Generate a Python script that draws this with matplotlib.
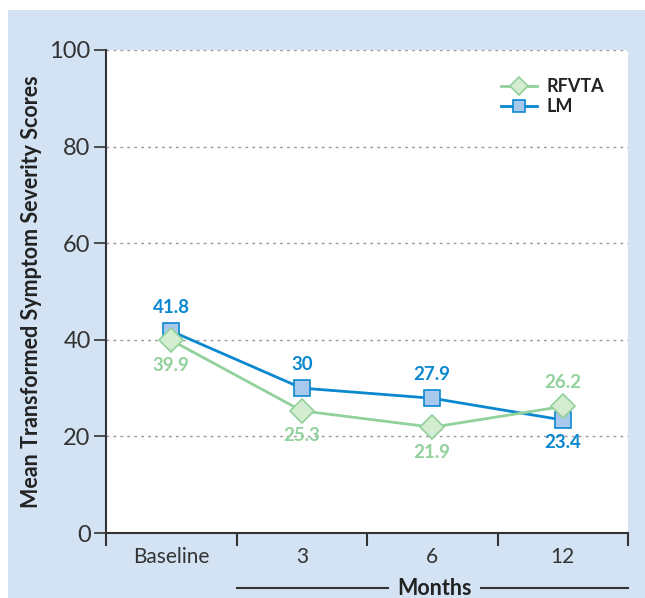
import matplotlib.pyplot as plt
from matplotlib.patches import Rectangle

# data
timepoints = ["Baseline", "3", "6", "12"]
rfvta = [39.9, 25.3, 21.9, 26.2]
lm = [41.8, 30.0, 27.9, 23.4]
rfvta_labels = ["39.9", "25.3", "21.9", "26.2"]
lm_labels = ["41.8", "30", "27.9", "23.4"]
rfvta_above = [False, False, False, True]
lm_above = [True, True, True, False]

GREEN = "#92d19b"
GREEN_FACE = "#d4ecd0"
BLUE = "#0a88cf"
BLUE_FACE = "#a9c9ec"
PANEL = "#d3e3f4"
DARK = "#333333"

plt.rcParams["font.family"] = ["Lato", "DejaVu Sans"]

fig = plt.figure(figsize=(6.45, 5.98), dpi=100)
fig.patch.set_facecolor("white")
fig.patches.append(Rectangle((8 / 645, 0), 1, (598 - 10) / 598,
                             transform=fig.transFigure, facecolor=PANEL,
                             edgecolor="none", zorder=-10))

ax = fig.add_axes([106 / 645, (598 - 533) / 598, 522 / 645, 483 / 598])
ax.set_facecolor("white")

x = list(range(len(timepoints)))
ax.plot(x, lm, color=BLUE, lw=2, marker="s", ms=11.5, mfc=BLUE_FACE,
        mec=BLUE, mew=1.2, label="LM", zorder=3)
ax.plot(x, rfvta, color=GREEN, lw=2, marker="D", ms=12.5, mfc=GREEN_FACE,
        mec=GREEN, mew=1.2, label="RFVTA", zorder=4)

for xi, v, t, up in zip(x, lm, lm_labels, lm_above):
    ax.annotate(t, (xi, v), xytext=(0, 11 if up else -10), textcoords="offset points",
                ha="center", va="bottom" if up else "top", color=BLUE,
                fontsize=13.5, fontweight="bold")
for xi, v, t, up in zip(x, rfvta, rfvta_labels, rfvta_above):
    ax.annotate(t, (xi, v), xytext=(0, 11 if up else -12), textcoords="offset points",
                ha="center", va="bottom" if up else "top", color=GREEN,
                fontsize=13.5, fontweight="bold")

ax.set_xlim(-0.5, 3.5)
ax.set_ylim(0, 100)
ax.set_yticks([0, 20, 40, 60, 80, 100])
ax.set_xticks([i - 0.5 for i in range(len(timepoints) + 1)])
ax.set_xticklabels([])
ax.set_xticks(x, minor=True)
ax.set_xticklabels(timepoints, minor=True)
ax.tick_params(axis="x", which="minor", length=0, pad=10, labelsize=15,
               labelcolor=DARK)
ax.tick_params(axis="x", which="major", length=9, width=1.5, color=DARK)
ax.tick_params(axis="y", length=9, width=1.2, color=DARK, labelsize=17,
               labelcolor=DARK, pad=2)

ax.grid(axis="y", color="#999999", ls=(0, (2, 3)), lw=1)
ax.set_axisbelow(True)
for side in ["top", "right"]:
    ax.spines[side].set_visible(False)
for side in ["left", "bottom"]:
    ax.spines[side].set_color(DARK)
    ax.spines[side].set_linewidth(1.5)

ax.set_ylabel("Mean Transformed Symptom Severity Scores", fontsize=15.5,
              fontweight="bold", color="#222222")
ax.yaxis.set_label_coords(-0.123, 0.5)

# "Months" caption with rules either side
trans = ax.get_xaxis_transform()
ax.plot([0.5, 1.66], [-0.114, -0.114], transform=trans, color=DARK, lw=1.5,
        clip_on=False)
ax.plot([2.37, 3.5], [-0.114, -0.114], transform=trans, color=DARK, lw=1.5,
        clip_on=False)
ax.text(2.015, -0.114, "Months", transform=trans, ha="center", va="center",
        fontsize=15.5, fontweight="bold", color="#222222")

handles, labels = ax.get_legend_handles_labels()
leg = ax.legend(handles[::-1], labels[::-1], loc="upper right",
                bbox_to_anchor=(0.985, 0.975), frameon=False, handlelength=2,
                handletextpad=0.5, labelspacing=0.15, markerscale=0.75,
                prop={"weight": "bold", "size": 13})
for t in leg.get_texts():
    t.set_color("#222222")

fig.savefig("out.png", dpi=100)
